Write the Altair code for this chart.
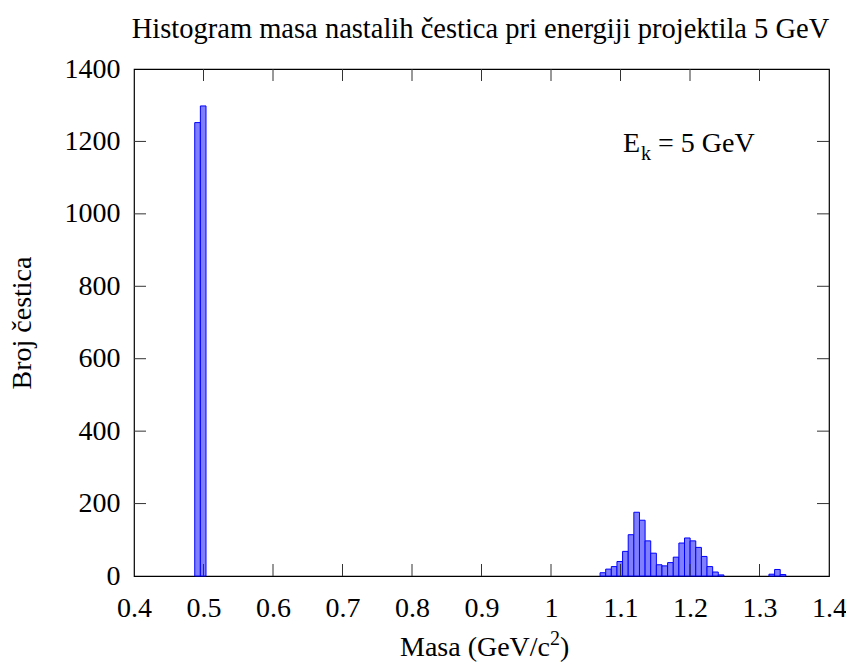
import altair as alt
import pandas as pd

# ---- data ----
bin_width = 0.0081
kaon_left = [0.4874, 0.4955]
kaon_count = [1252, 1298]
lambda_left = [1.0706, 1.0787, 1.0868, 1.0949, 1.1030, 1.1111, 1.1192, 1.1273,
               1.1354, 1.1435, 1.1516, 1.1597, 1.1678, 1.1759, 1.1840, 1.1921,
               1.2002, 1.2083, 1.2164, 1.2245, 1.2326, 1.2407]
lambda_count = [9, 19, 26, 40, 68, 114, 176, 154, 97, 63, 31, 28, 37, 52, 91, 105,
                97, 79, 54, 26, 11, 3]
small_left = [1.3136, 1.3217, 1.3298]
small_count = [5, 18, 4]

x_ticks = [0.4, 0.5, 0.6, 0.7, 0.8, 0.9, 1.0, 1.1, 1.2, 1.3, 1.4]
y_ticks = [0, 200, 400, 600, 800, 1000, 1200, 1400]

title_text = "Histogram masa nastalih čestica pri energiji projektila 5 GeV"
x_title_main = "Masa (GeV/c"
x_title_sup = "2"
x_title_end = ")"
y_title = "Broj čestica"

W, H = 695, 507
FONT = "Liberation Serif"
FS = 28

df = pd.DataFrame({
    "left": kaon_left + lambda_left + small_left,
    "count": kaon_count + lambda_count + small_count,
})
df["right"] = df["left"] + bin_width

xs = alt.Scale(domain=[0.4, 1.4], nice=False, zero=False)
ys = alt.Scale(domain=[0, 1400], nice=False)

bars = alt.Chart(df).mark_rect(
    fill="#8080ff", stroke="#0000ff", strokeWidth=1
).encode(
    x=alt.X("left:Q", scale=xs, axis=alt.Axis(
        values=x_ticks, title=None, grid=False, ticks=False, domain=False,
        labelFlush=False,
        labelExpr="datum.value == 1 ? '1' : format(datum.value, '.1f')",
        labelPadding=18)),
    x2="right:Q",
    y=alt.Y("count:Q", scale=ys, axis=alt.Axis(
        values=y_ticks, title=y_title, grid=False, ticks=False, domain=False,
        labelFlush=False, format="d", labelPadding=14, titlePadding=28)),
    y2=alt.datum(0),
)

xt = pd.DataFrame({"v": x_ticks[1:-1]})
yt = pd.DataFrame({"v": y_ticks[1:-1]})

xtick_b = alt.Chart(xt).mark_rule(color="#333333", strokeWidth=1).encode(
    x=alt.X("v:Q", scale=xs), y=alt.value(H), y2=alt.value(H - 12))
xtick_t = alt.Chart(xt).mark_rule(color="#333333", strokeWidth=1).encode(
    x=alt.X("v:Q", scale=xs), y=alt.value(0), y2=alt.value(12))
ytick_l = alt.Chart(yt).mark_rule(color="#333333", strokeWidth=1).encode(
    y=alt.Y("v:Q", scale=ys), x=alt.value(0), x2=alt.value(12))
ytick_r = alt.Chart(yt).mark_rule(color="#333333", strokeWidth=1).encode(
    y=alt.Y("v:Q", scale=ys), x=alt.value(W), x2=alt.value(W - 12))

anno = pd.DataFrame({"t": ["x"]})


def txt(s, x, y, size):
    return alt.Chart(anno).mark_text(
        text=s, font=FONT, fontSize=size, align="left", baseline="alphabetic",
        color="black").encode(x=alt.value(x), y=alt.value(y))


e_main = txt("E", 489, 83, 28)
e_sub = txt("k", 507, 91, 20)
e_rest = txt("= 5 GeV", 524, 83, 28)

xt_main = txt(x_title_main, 266, 587, FS)
xt_sup = txt(x_title_sup, 416, 576, 20)
xt_end = txt(x_title_end, 426, 587, FS)

chart = alt.layer(
    bars, xtick_b, xtick_t, ytick_l, ytick_r, e_main, e_sub, e_rest,
    xt_main, xt_sup, xt_end
).properties(
    width=W, height=H,
    title=alt.TitleParams(title_text, font=FONT, fontSize=28.5, fontWeight="normal",
                          color="black", anchor="middle", offset=12, dx=-1),
    autosize=alt.AutoSizeParams(type="none"),
    padding={"left": 126, "top": 61, "right": 17, "bottom": 86},
    background="white",
).configure_view(
    stroke="black", strokeWidth=1.2
).configure_axis(
    labelFont=FONT, labelFontSize=FS, labelColor="black",
    titleFont=FONT, titleFontSize=FS, titleColor="black", titleFontWeight="normal",
)

chart.save("out.html", embed_options={"renderer": "svg", "actions": False})
